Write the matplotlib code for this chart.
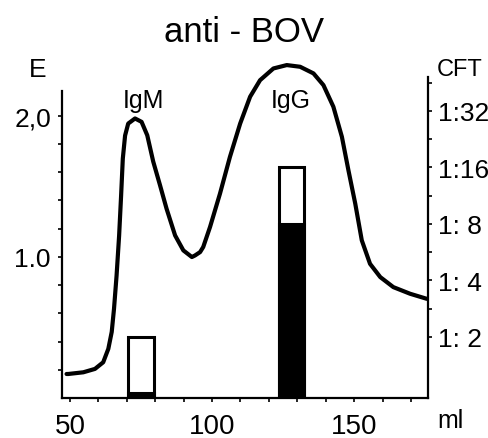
import numpy as np
import matplotlib.pyplot as plt

plt.rcParams['font.family'] = ['Liberation Sans', 'DejaVu Sans']

# elution curve (ml vs extinction E)
ml = [48.8, 49.4, 54.7, 58.8, 61.7, 63.5, 64.7, 65.5, 66.4, 67.3, 68.0, 68.6,
      69.4, 70.5, 72.9, 75.2, 77.2, 79.3, 81.7, 84.0, 87.0, 89.9, 92.9, 94.0,
      95.8, 96.9, 99.3, 102.8, 106.3, 109.9, 113.4, 116.9, 121.6, 126.3,
      131.0, 135.7, 139.2, 142.7, 145.7, 148.0, 150.4, 152.7, 155.6, 159.2,
      163.8, 169.7, 175.6]
extinction = [0.17, 0.170, 0.182, 0.206, 0.253, 0.348, 0.468, 0.631, 0.865,
              1.149, 1.433, 1.695, 1.858, 1.943, 1.979, 1.955, 1.860, 1.674,
              1.506, 1.340, 1.151, 1.045, 0.998, 1.009, 1.033, 1.069, 1.211,
              1.447, 1.707, 1.943, 2.133, 2.250, 2.333, 2.357, 2.345, 2.298,
              2.215, 2.062, 1.849, 1.612, 1.376, 1.116, 0.950, 0.856, 0.785,
              0.738, 0.702]

# complement fixation titres of the fractions
fractions = ['IgM', 'IgG']
frac_ml = [75, 128]
cft_total = [2, 16]
cft_filled = [1, 8]

cft_ticks = [2, 4, 8, 16, 32]
cft_labels = ['1: 2', '1: 4', '1: 8', '1:16', '1:32']

W, H = 489, 439
fig = plt.figure(figsize=(W / 100, H / 100), dpi=100)
ax = fig.add_axes([62 / W, 1 - 399 / H, 366 / W, 339 / H])
ax2 = ax.twinx()

ax.plot(ml, extinction, color='black', lw=3.0, solid_joinstyle='round',
        solid_capstyle='round', zorder=3)
ax.set_xlim(47.2, 176)
ax.set_ylim(0, 2.4)
ax2.set_ylim(-0.08, 5.92)

bottom = -0.08
ax2.bar(frac_ml, np.log2(cft_total) - bottom, bottom=bottom, width=9,
        facecolor='white', edgecolor='black', lw=2.2)
ax2.bar(frac_ml, np.log2(cft_filled) - bottom, bottom=bottom, width=9,
        facecolor='black', edgecolor='black', lw=2.2)

for a in (ax, ax2):
    a.spines['top'].set_visible(False)
    for s in a.spines.values():
        s.set_linewidth(1.6)
ax.spines['right'].set_visible(False)
ax2.spines['left'].set_visible(False)
ax2.spines['bottom'].set_visible(False)
ax.spines['left'].set_bounds(0, 2.17)
ax2.spines['right'].set_bounds(-0.08, 5.6)

ax.set_yticks([1.0, 2.0], labels=['1.0', '2,0'], fontsize=19)
ax.set_yticks(np.arange(0.2, 2.1, 0.2), minor=True)
ax.set_xticks([50, 100, 150], labels=['50', '100', '150'], fontsize=20)
ax.set_xticks(np.arange(60, 171, 10), minor=True)
ax.tick_params(which='both', direction='out', length=3, width=1.2, pad=5)
ax.tick_params(axis='x', pad=8)

ax2.set_yticks(np.log2(cft_ticks), labels=cft_labels, fontsize=19)
ax2.set_yticks(np.arange(1.5, 5.6, 1.0), minor=True)
ax2.tick_params(which='both', direction='out', length=3, width=1.2, pad=4)

def px(x, y, s, **kw):
    fig.text(x / W, 1 - y / H, s, ha='center', va='center', **kw)

px(244, 32, 'anti - BOV', fontsize=25)
px(38, 70, 'E', fontsize=19)
px(460, 70, 'CFT', fontsize=17)
px(450, 421, 'ml', fontsize=18)
px(143, 101, fractions[0], fontsize=18)
px(291, 101, fractions[1], fontsize=18)

fig.savefig('out.png', dpi=100)
